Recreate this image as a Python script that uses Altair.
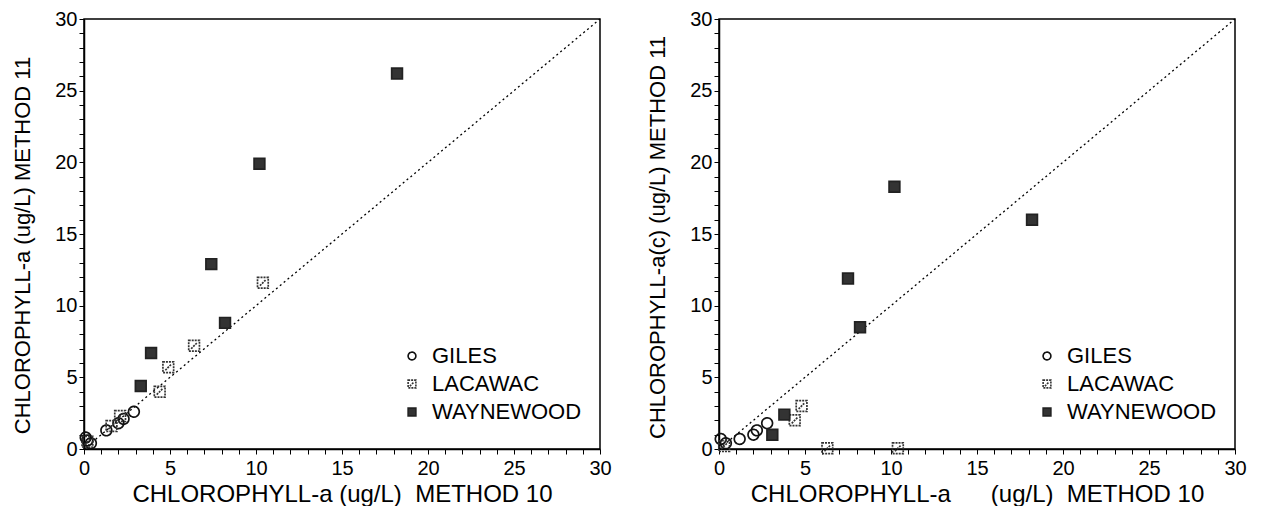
import altair as alt
import pandas as pd

SITES = ["GILES", "LACAWAC", "WAYNEWOOD"]

# Left panel: CHLOROPHYLL-a METHOD 10 vs METHOD 11
L_GILES_X = [2.9, 2.3, 1.3, 0.1, 0.4, 0.2, 2.0]
L_GILES_Y = [2.6, 2.1, 1.3, 0.8, 0.4, 0.6, 1.8]
L_LACAWAC_X = [10.4, 6.4, 4.9, 4.4, 2.1, 1.6, 0.2]
L_LACAWAC_Y = [11.6, 7.2, 5.7, 4.0, 2.3, 1.6, 0.5]
L_WAYNE_X = [18.2, 10.2, 7.4, 8.2, 3.9, 3.3]
L_WAYNE_Y = [26.2, 19.9, 12.9, 8.8, 6.7, 4.4]

# Right panel: CHLOROPHYLL-a METHOD 10 vs CHLOROPHYLL-a(c) METHOD 11
R_GILES_X = [2.8, 2.2, 2.0, 1.2, 0.1, 0.4]
R_GILES_Y = [1.8, 1.3, 1.0, 0.7, 0.7, 0.4]
R_LACAWAC_X = [4.8, 4.4, 6.3, 10.4, 0.3]
R_LACAWAC_Y = [3.0, 2.0, 0.05, 0.05, 0.2]
R_WAYNE_X = [18.2, 10.2, 7.5, 8.2, 3.8, 3.1]
R_WAYNE_Y = [16.0, 18.3, 11.9, 8.5, 2.4, 1.0]

DIAG = [0, 30]
TICKS = list(range(0, 31))

FONT = "Liberation Sans"
LACAWAC_SHAPE = "M-1,-1H1V1H-1Z M-0.55,0.55L0.55,-0.55"


def frame(gx, gy, lx, ly, wx, wy):
    rows = []
    for s, xs, ys in (("GILES", gx, gy), ("LACAWAC", lx, ly), ("WAYNEWOOD", wx, wy)):
        for a, b in zip(xs, ys):
            rows.append({"x": a, "y": b, "site": s})
    return pd.DataFrame(rows)


def panel(df, xtitle, ytitle, ytitle_size, ytitle_y):
    xs = alt.Scale(domain=[0, 30], nice=False, zero=False)
    ys = alt.Scale(domain=[0, 30], nice=False, zero=False)
    xaxis = alt.Axis(title=xtitle, values=TICKS,
                     labelExpr="datum.value % 5 === 0 ? datum.label : ''",
                     labelPadding=4, titlePadding=4, titleFontSize=24)
    yaxis = alt.Axis(title=ytitle, values=TICKS,
                     labelExpr="datum.value % 5 === 0 ? datum.label : ''",
                     labelPadding=2, titlePadding=20, titleFontSize=ytitle_size,
                     titleY=ytitle_y)
    diag_df = pd.DataFrame({"x": DIAG, "y": DIAG})
    diag = alt.Chart(diag_df).mark_line(
        stroke="black", strokeDash=[2, 3], strokeWidth=1.3
    ).encode(x=alt.X("x:Q", scale=xs, axis=xaxis), y=alt.Y("y:Q", scale=ys, axis=yaxis))
    leg = alt.Legend(title=None)
    pts = alt.Chart(df).mark_point(filled=True, opacity=1, strokeWidth=1.7, size=115).encode(
        x=alt.X("x:Q", scale=xs, axis=xaxis),
        y=alt.Y("y:Q", scale=ys, axis=yaxis),
        shape=alt.Shape("site:N", scale=alt.Scale(domain=SITES, range=["circle", LACAWAC_SHAPE, "square"]), legend=leg),
        fill=alt.Fill("site:N", scale=alt.Scale(domain=SITES, range=["transparent", "transparent", "#333333"]), legend=leg),
        stroke=alt.Stroke("site:N", scale=alt.Scale(domain=SITES, range=["#111111", "#333333", "#222222"]), legend=leg),
        strokeDash=alt.StrokeDash("site:N", scale=alt.Scale(domain=SITES, range=[[1, 0], [2, 1], [1, 0]]), legend=leg),
    )
    return alt.layer(diag, pts).properties(width=516, height=430).resolve_scale(
        shape="independent", fill="independent", stroke="independent", strokeDash="independent")


left = panel(frame(L_GILES_X, L_GILES_Y, L_LACAWAC_X, L_LACAWAC_Y, L_WAYNE_X, L_WAYNE_Y),
             "CHLOROPHYLL-a (ug/L)\u00a0\u00a0METHOD 10",
             "CHLOROPHYLL-a (ug/L) METHOD 11", 22, 226)
right = panel(frame(R_GILES_X, R_GILES_Y, R_LACAWAC_X, R_LACAWAC_Y, R_WAYNE_X, R_WAYNE_Y),
              "CHLOROPHYLL-a\u00a0\u00a0\u00a0\u00a0\u00a0\u00a0(ug/L)\u00a0\u00a0METHOD 10",
              "CHLOROPHYLL-a(c) (ug/L) METHOD 11", 22, 218)

chart = alt.hconcat(left, right, spacing=34).resolve_scale(
    shape="independent", fill="independent", stroke="independent", strokeDash="independent"
).resolve_legend(
    shape="independent", fill="independent", stroke="independent", strokeDash="independent"
).properties(
    padding={"left": 3, "top": 0, "right": 2, "bottom": 2}
).configure_view(
    stroke="black", strokeWidth=1.5
).configure_axis(
    domainColor="black", domainWidth=1.5, tickColor="black", tickWidth=1, tickSize=5,
    labelColor="black", titleColor="black", labelFont=FONT, titleFont=FONT,
    labelFontSize=20, titleFontSize=23, titleFontWeight="normal", grid=False,
    labelFlush=False, labelOverlap=False
).configure_legend(
    orient="none", legendX=317, legendY=326, padding=0,
    labelFont=FONT, labelFontSize=22, labelColor="black", labelOffset=9,
    symbolSize=60, symbolStrokeWidth=1.6, rowPadding=6
)

chart.save("out.html", embed_options={"renderer": "svg", "actions": False})
